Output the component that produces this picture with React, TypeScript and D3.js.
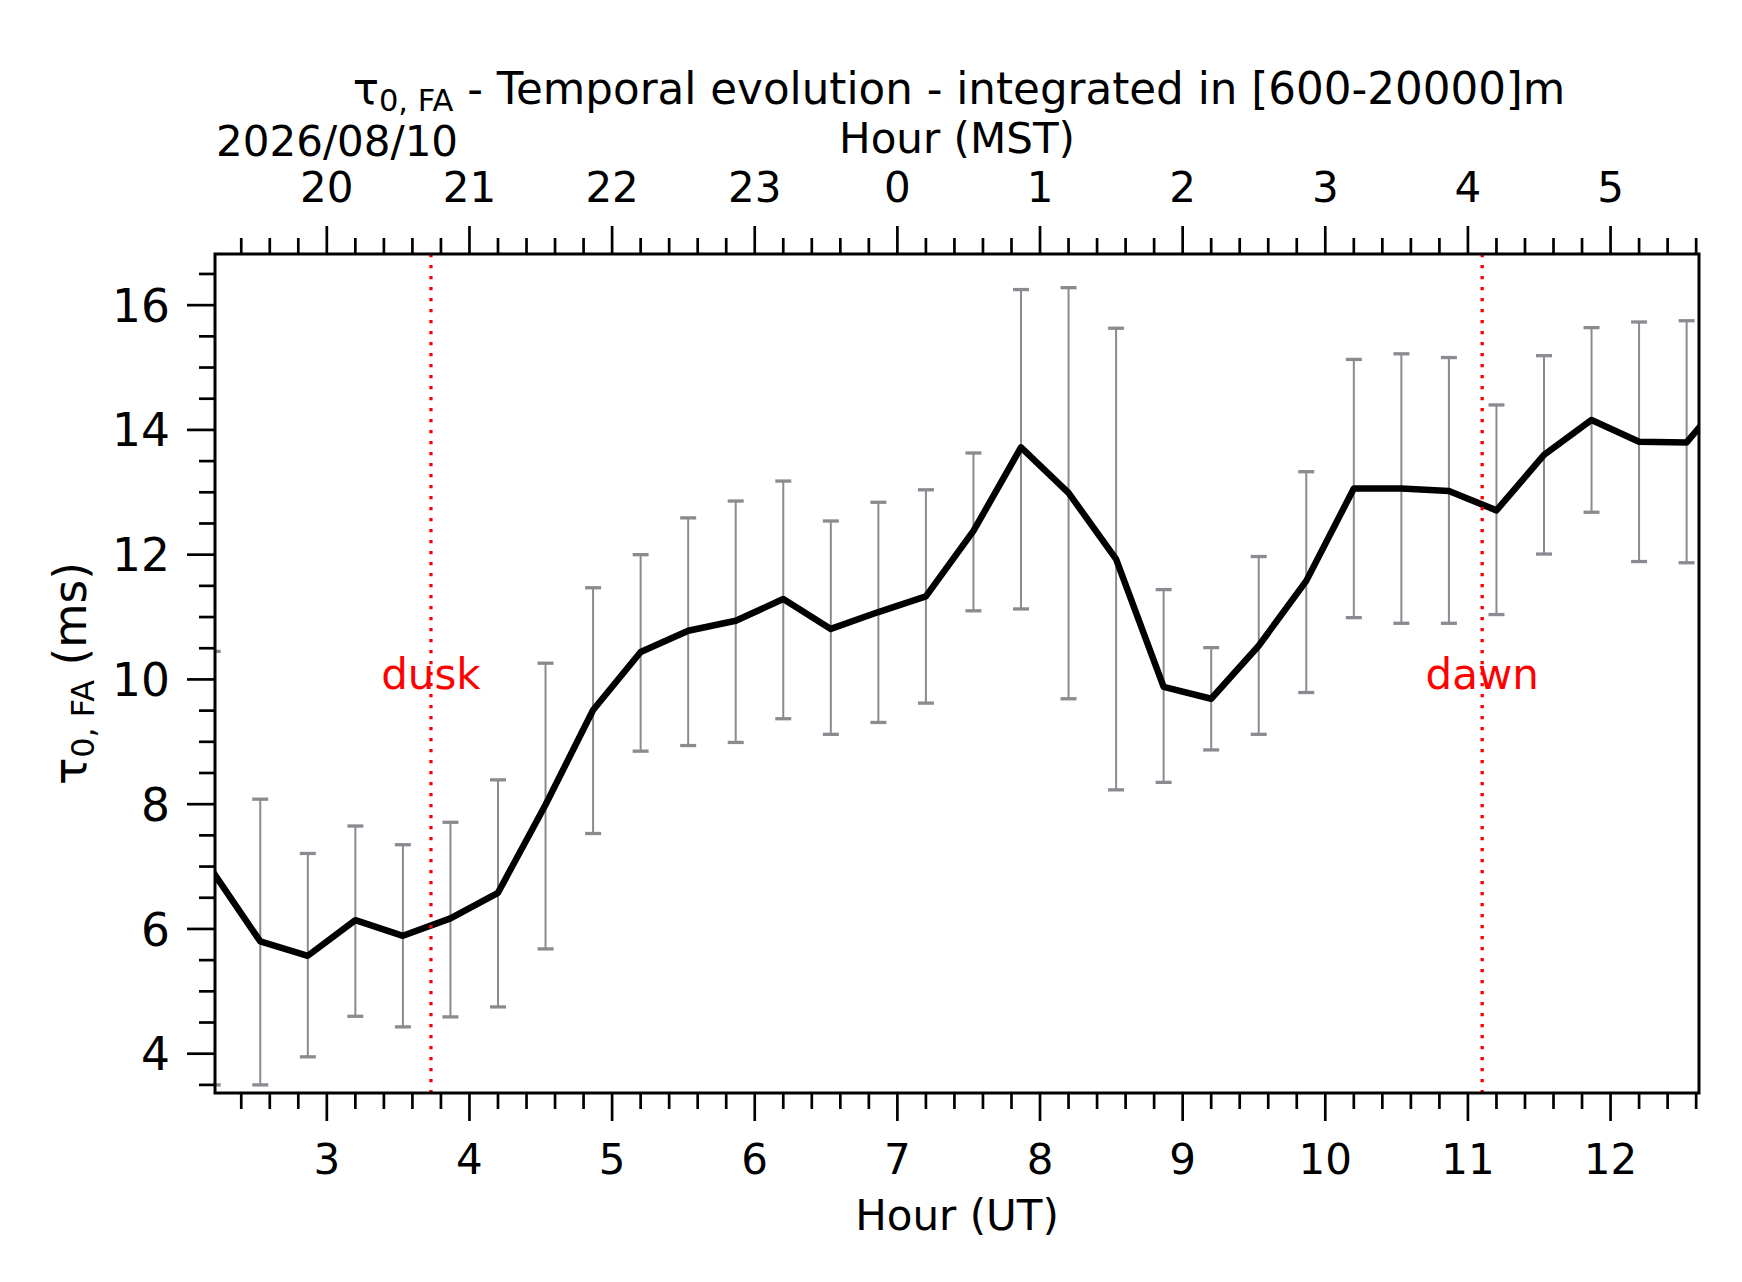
import React, { useEffect, useRef } from 'react';
import * as d3 from 'd3';

// sample times (UT), 20-minute bins
const times = [
    '02:12', '02:32', '02:52', '03:12', '03:32', '03:52', '04:12', '04:32', '04:52',
    '05:12', '05:32', '05:52', '06:12', '06:32', '06:52', '07:12', '07:32', '07:52',
    '08:12', '08:32', '08:52', '09:12', '09:32', '09:52', '10:12', '10:32', '10:52',
    '11:12', '11:32', '11:52', '12:12', '12:32', '12:52',
];

// tau_0 free atmosphere (ms)
const tau = [
    6.92, 5.80, 5.57, 6.14, 5.89, 6.17, 6.58, 7.99, 9.51,
    10.44, 10.78, 10.94, 11.29, 10.81, 11.08, 11.33, 12.38, 13.72,
    12.99, 11.93, 9.88, 9.69, 10.54, 11.58, 13.06, 13.06, 13.02,
    12.71, 13.60, 14.16, 13.81, 13.80, 14.70,
];

const tauUpper = [
    10.45, 8.08, 7.21, 7.65, 7.35, 7.71, 8.39, 10.26, 11.47,
    12.00, 12.59, 12.86, 13.18, 12.54, 12.84, 13.04, 13.63, 16.25,
    16.28, 15.63, 11.44, 10.51, 11.97, 13.33, 15.13, 15.22, 15.16,
    14.40, 15.19, 15.64, 15.73, 15.75, 16.60,
];

const tauLower = [
    3.50, 3.50, 3.95, 4.60, 4.43, 4.59, 4.75, 5.68, 7.53,
    8.85, 8.94, 8.99, 9.37, 9.12, 9.31, 9.62, 11.10, 11.13,
    9.69, 8.23, 8.35, 8.87, 9.12, 9.79, 10.99, 10.90, 10.90,
    11.04, 12.01, 12.68, 11.89, 11.87, 12.80,
];

const utTicks = [3, 4, 5, 6, 7, 8, 9, 10, 11, 12];
const mstLabels = ['20', '21', '22', '23', '0', '1', '2', '3', '4', '5'];
const yTicks = [4, 6, 8, 10, 12, 14, 16];

const duskHour = 3.73;
const dawnHour = 11.1;

const toHour = (s: string) => {
    const [h, m] = s.split(':').map(Number);
    return h + m / 60;
};

export default function App() {
    const svgRef = useRef<SVGSVGElement>(null);

    useEffect(() => {
        if (!svgRef.current) return;

        const width = 1742;
        const height = 1282;
        const margin = { top: 254, right: 43, bottom: 189, left: 215 };
        const font = '"DejaVu Sans", sans-serif';
        const fs = 42;      // x axis text
        const fsY = 45.5;   // y axis text
        const fsTitle = 43.6;
        const errColor = '#898b90';

        d3.select(svgRef.current).selectAll('*').remove();

        const svg = d3.select(svgRef.current)
            .attr('width', width)
            .attr('height', height)
            .attr('viewBox', `0 0 ${width} ${height}`)
            .style('font-family', font)
            .style('background', '#fff');

        const x = d3.scaleLinear().domain([2.216, 12.62]).range([margin.left, width - margin.right]);
        const y = d3.scaleLinear().domain([3.37, 16.82]).range([height - margin.bottom, margin.top]);

        const x0 = margin.left, x1 = width - margin.right;
        const y0 = margin.top, y1 = height - margin.bottom;

        const data = times.map((t, i) => ({ h: toHour(t), v: tau[i], lo: tauLower[i], hi: tauUpper[i] }));

        svg.append('defs').append('clipPath').attr('id', 'plot-clip')
            .append('rect').attr('x', x0).attr('y', y0).attr('width', x1 - x0).attr('height', y1 - y0);

        const plot = svg.append('g').attr('clip-path', 'url(#plot-clip)');

        // error bars
        const eb = plot.append('g').attr('stroke', errColor);
        eb.selectAll('line.bar').data(data).join('line')
            .attr('x1', d => x(d.h)).attr('x2', d => x(d.h))
            .attr('y1', d => y(d.lo)).attr('y2', d => y(d.hi))
            .attr('stroke-width', 2);
        (['lo', 'hi'] as const).forEach(k => {
            eb.selectAll(`line.cap-${k}`).data(data).join('line')
                .attr('class', `cap-${k}`)
                .attr('x1', d => x(d.h) - 8).attr('x2', d => x(d.h) + 8)
                .attr('y1', d => y(d[k])).attr('y2', d => y(d[k]))
                .attr('stroke-width', 3.3);
        });

        // main line
        const line = d3.line<typeof data[0]>().x(d => x(d.h)).y(d => y(d.v));
        plot.append('path').datum(data)
            .attr('d', line)
            .attr('fill', 'none')
            .attr('stroke', '#000')
            .attr('stroke-width', 6.5)
            .attr('stroke-linejoin', 'round');

        // dusk / dawn
        [[duskHour, 'dusk'], [dawnHour, 'dawn']].forEach(([h, label]) => {
            const px = x(h as number);
            svg.append('line')
                .attr('x1', px).attr('x2', px).attr('y1', y0).attr('y2', y1)
                .attr('stroke', '#ff0000').attr('stroke-width', 3.3)
                .attr('stroke-dasharray', '3.3,7.7');
            svg.append('text')
                .attr('x', px).attr('y', y(9.85))
                .attr('text-anchor', 'middle')
                .attr('fill', '#ff0000')
                .style('font-size', `${fs}px`)
                .text(label as string);
        });

        // frame
        svg.append('rect')
            .attr('x', x0).attr('y', y0).attr('width', x1 - x0).attr('height', y1 - y0)
            .attr('fill', 'none').attr('stroke', '#000').attr('stroke-width', 3);

        // x ticks (bottom UT, top MST)
        const minorX = d3.range(12, 64).map(i => i / 5).filter(v => v > x.domain()[0] && v < x.domain()[1] && Math.abs(v - Math.round(v)) > 1e-6);
        const ticks = svg.append('g').attr('stroke', '#000').attr('stroke-width', 2.7);
        minorX.forEach(v => {
            ticks.append('line').attr('x1', x(v)).attr('x2', x(v)).attr('y1', y1).attr('y2', y1 + 16);
            ticks.append('line').attr('x1', x(v)).attr('x2', x(v)).attr('y1', y0).attr('y2', y0 - 16);
        });
        utTicks.forEach(v => {
            ticks.append('line').attr('x1', x(v)).attr('x2', x(v)).attr('y1', y1).attr('y2', y1 + 28);
            ticks.append('line').attr('x1', x(v)).attr('x2', x(v)).attr('y1', y0).attr('y2', y0 - 28);
        });

        // y ticks
        const minorY = d3.range(7, 34).map(i => i / 2).filter(v => v > y.domain()[0] && v < y.domain()[1] && v % 2 !== 0);
        minorY.forEach(v => {
            ticks.append('line').attr('x1', x0).attr('x2', x0 - 16).attr('y1', y(v)).attr('y2', y(v));
        });
        yTicks.forEach(v => {
            ticks.append('line').attr('x1', x0).attr('x2', x0 - 28).attr('y1', y(v)).attr('y2', y(v));
        });

        const labels = svg.append('g').style('font-size', `${fs}px`).attr('fill', '#000');

        labels.selectAll('text.ut').data(utTicks).join('text')
            .attr('x', d => x(d)).attr('y', 1174)
            .attr('text-anchor', 'middle')
            .text(d => String(d));

        labels.selectAll('text.mst').data(utTicks).join('text')
            .attr('class', 'mst')
            .attr('x', d => x(d)).attr('y', 202)
            .attr('text-anchor', 'middle')
            .text((d, i) => mstLabels[i]);

        labels.selectAll('text.yt').data(yTicks).join('text')
            .attr('class', 'yt')
            .attr('x', 170).attr('y', d => y(d) + fsY * 0.3645)
            .attr('text-anchor', 'end')
            .style('font-size', `${fsY}px`)
            .text(d => String(d));

        labels.append('text')
            .attr('x', (x0 + x1) / 2).attr('y', 1230)
            .attr('text-anchor', 'middle')
            .text('Hour (UT)');

        labels.append('text')
            .attr('x', (x0 + x1) / 2).attr('y', 153)
            .attr('text-anchor', 'middle')
            .text('Hour (MST)');

        labels.append('text')
            .attr('x', x0 + 1).attr('y', 156)
            .text('2026/08/10');

        // title with subscript
        const title = labels.append('text')
            .attr('x', (x0 + x1) / 2 + 2).attr('y', 104)
            .attr('text-anchor', 'middle')
            .style('font-size', `${fsTitle}px`);
        title.append('tspan').text('τ');
        title.append('tspan').attr('dy', 7).style('font-size', `${fsTitle * 0.7}px`).text('0, FA');
        title.append('tspan').attr('dy', -7).text(' - Temporal evolution - integrated in [600-20000]m');

        // y label
        const ylab = labels.append('text')
            .attr('transform', `translate(86,${(y0 + y1) / 2}) rotate(-90)`)
            .attr('text-anchor', 'middle')
            .style('font-size', `${fsY}px`);
        ylab.append('tspan').text('τ');
        ylab.append('tspan').attr('dy', 7.5).style('font-size', `${fsY * 0.7}px`).text('0, FA');
        ylab.append('tspan').attr('dy', -7.5).text(' (ms)');
    }, []);

    return (
        <div style={{ position: 'absolute', left: 0, top: 0, background: '#fff' }}>
            <svg ref={svgRef}></svg>
        </div>
    );
}
